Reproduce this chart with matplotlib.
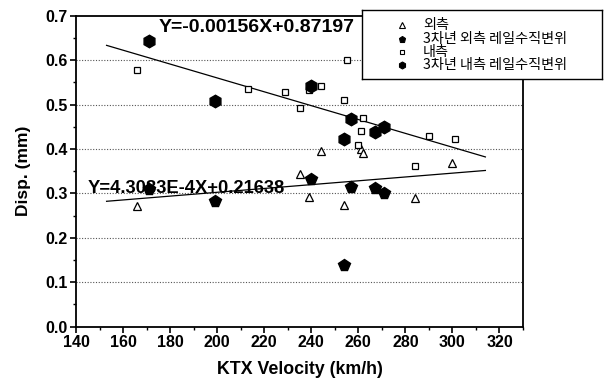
import numpy as np
import matplotlib.pyplot as plt
from matplotlib.ticker import MultipleLocator

plt.rcParams['font.family'] = ['Liberation Sans', 'Noto Sans CJK KR', 'DejaVu Sans']

# 3rd-year rail vertical displacement (filled markers share the same speeds)
vel_3yr = [171, 199, 240, 254, 257, 267, 271]
inner_3yr = [0.642, 0.507, 0.542, 0.422, 0.468, 0.439, 0.450]
outer_3yr = [0.309, 0.282, 0.332, 0.139, 0.314, 0.312, 0.300]

# inner rail (open squares)
inner_vel = [166, 213, 229, 235, 239, 244, 254, 255, 260, 261, 262, 284, 290, 301]
inner_disp = [0.577, 0.535, 0.529, 0.492, 0.532, 0.542, 0.511, 0.601, 0.409,
              0.441, 0.469, 0.362, 0.430, 0.422]

# outer rail (open triangles)
outer_vel = [166, 235, 239, 244, 254, 261, 262, 284, 300]
outer_disp = [0.272, 0.344, 0.291, 0.396, 0.273, 0.400, 0.391, 0.289, 0.368]

# linear fits
inner_fit = (-0.00156, 0.87197)
outer_fit = (4.3083e-4, 0.21638)
fit_range = (153, 314)

labels = ['외측', '3차년 외측 레일수직변위', '내측', '3차년 내측 레일수직변위']

fig = plt.figure(figsize=(6.05, 3.87), dpi=100)
ax = fig.add_axes([0.1256, 0.1558, 0.7389, 0.8036])

xs = np.array(fit_range)
ax.plot(xs, inner_fit[0] * xs + inner_fit[1], color='black', lw=0.9, zorder=3)
ax.plot(xs, outer_fit[0] * xs + outer_fit[1], color='black', lw=0.9, zorder=3)

ax.text(175.3, 0.674, 'Y=-0.00156X+0.87197', fontsize=14, fontweight='bold',
        va='center', ha='left', zorder=2)
ax.text(144.8, 0.312, 'Y=4.3083E-4X+0.21638', fontsize=13.2, fontweight='bold',
        va='center', ha='left', zorder=2)

styles = [
    dict(marker='^', ms=6, mfc='white', mec='black', mew=0.9),
    dict(marker='p', ms=8.5, mfc='black', mec='black'),
    dict(marker='s', ms=5, mfc='white', mec='black', mew=0.9),
    dict(marker='h', ms=9, mfc='black', mec='black'),
]
ax.plot(outer_vel, outer_disp, ls='none', zorder=4, **styles[0])
ax.plot(inner_vel, inner_disp, ls='none', zorder=4, **styles[2])
ax.plot(vel_3yr, outer_3yr, ls='none', zorder=5, **styles[1])
ax.plot(vel_3yr, inner_3yr, ls='none', zorder=5, **styles[3])

ax.set_xlim(140, 330)
ax.set_ylim(0, 0.7)
ax.xaxis.set_minor_locator(MultipleLocator(10))
ax.yaxis.set_minor_locator(MultipleLocator(0.05))
ax.set_xticks(np.arange(140, 321, 20))
ax.set_yticks(np.arange(0, 0.71, 0.1))
ax.set_yticklabels(['%.1f' % v for v in np.arange(0, 0.71, 0.1)])
ax.tick_params(which='major', direction='out', length=4, width=1.2,
               labelsize=11.5, pad=2)
ax.tick_params(which='minor', direction='out', length=2.5, width=1)
for lab in ax.get_xticklabels() + ax.get_yticklabels():
    lab.set_fontweight('bold')
for sp in ax.spines.values():
    sp.set_linewidth(1.3)

for yv in np.arange(0.1, 0.65, 0.1):
    ax.axhline(yv, color='#555555', lw=0.8, ls=(0, (1, 1.5)), zorder=1)

ax.set_xlabel('KTX Velocity (km/h)', fontsize=12.8, fontweight='bold', labelpad=8)
ax.set_ylabel('Disp. (mm)', fontsize=12.5, fontweight='bold', labelpad=10)

# legend box drawn as its own small axes
lax = fig.add_axes([0.598, 0.796, 0.397, 0.178], zorder=10)
lax.set_xlim(0, 1)
lax.set_ylim(0, 1)
lax.set_xticks([])
lax.set_yticks([])
for sp in lax.spines.values():
    sp.set_linewidth(1.0)
rows = [0.78, 0.58, 0.39, 0.20]
small = [4, 5, 3.5, 5]
for st, ms, lab, yy in zip(styles, small, labels, rows):
    st = dict(st, ms=ms, mew=0.8)
    lax.plot([0.167], [yy], ls='none', **st)
    lax.text(0.255, yy, lab, fontsize=10.2, va='center', ha='left',
             family=['Noto Sans CJK KR', 'DejaVu Sans'])

fig.savefig('out.png', dpi=100)
